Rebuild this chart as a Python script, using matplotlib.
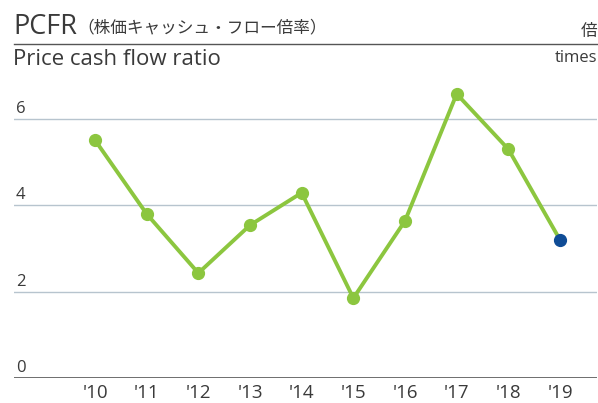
import numpy as np
import matplotlib
matplotlib.use("Agg")
import matplotlib.pyplot as plt
from matplotlib.transforms import blended_transform_factory

plt.rcParams['font.family'] = ['Open Sans', 'Noto Sans CJK JP', 'DejaVu Sans']

years = ["'10", "'11", "'12", "'13", "'14", "'15", "'16", "'17", "'18", "'19"]
pcfr = [5.51, 3.80, 2.43, 3.54, 4.29, 1.85, 3.64, 6.58, 5.30, 3.20]
y_ticks = [0, 2, 4, 6]

green = "#8cc63f"
blue = "#0f4c96"
text_col = "#3a3a3a"
jp = ['Noto Sans CJK JP', 'DejaVu Sans']

W, H = 598, 403
fig = plt.figure(figsize=(W / 100, H / 100), dpi=100)

# axes box in pixel coords
left, right, bottom, top = 14, 597, 378, 67
ax = fig.add_axes([left / W, (H - bottom) / H, (right - left) / W, (bottom - top) / H])

x = np.arange(len(years))
ax.plot(x, pcfr, color=green, lw=2.8, zorder=3)
ax.plot(x[:-1], pcfr[:-1], 'o', color=green, ms=8.5, zorder=4)
ax.plot(x[-1:], pcfr[-1:], 'o', color=blue, ms=8.5, zorder=5)

ax.set_xlim(-1.568, 9.716)
ax.set_ylim(0, (bottom - top) / 43.17)

for t in y_ticks:
    if t == 0:
        ax.axhline(t, color="#555555", lw=1.2, zorder=2)
    else:
        ax.axhline(t, color="#b7c4ce", lw=1.0, zorder=1)

tr = blended_transform_factory(ax.transAxes, ax.transData)
for t in y_ticks:
    ax.text(0.003, t + 0.14, str(t), transform=tr, ha="left", va="baseline",
            fontsize=12, color=text_col)

for sp in ax.spines.values():
    sp.set_visible(False)
ax.set_yticks([])
ax.set_xticks(x)
ax.set_xticklabels(years, fontsize=13.5, color=text_col)
ax.tick_params(axis="x", length=0, pad=4)

# header
fig.text(13 / W, 1 - 34 / H, "PCFR", fontsize=19.5, color=text_col, ha="left", va="baseline")
fig.text(77 / W, 1 - 32 / H, "（株価キャッシュ・フロー倍率）", fontsize=12, color=text_col,
         ha="left", va="baseline", family=jp)
fig.text(597 / W, 1 - 36 / H, "倍", fontsize=12, color=text_col, ha="right", va="baseline",
         family=jp)
fig.add_artist(plt.Line2D([14 / W, 597 / W], [1 - 44 / H, 1 - 44 / H], color="#555555", lw=1.0))
fig.text(13 / W, 1 - 65 / H, "Price cash flow ratio", fontsize=16, color=text_col,
         ha="left", va="baseline")
fig.text(597 / W, 1 - 62 / H, "times", fontsize=12, color=text_col, ha="right", va="baseline")

fig.savefig("out.png", dpi=100)
